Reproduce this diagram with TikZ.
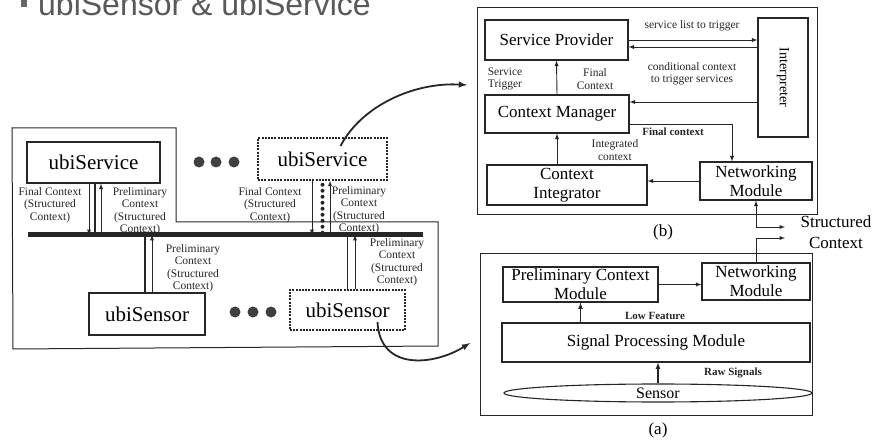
\documentclass[tikz,border=0pt]{standalone}
\usepackage{fontspec}
\setmainfont{Liberation Serif}
\newfontfamily\titlefont{Liberation Sans}
\usetikzlibrary{shapes.geometric}
\usetikzlibrary{calc}

\begin{document}
\begin{tikzpicture}[x=1pt,y=-1pt,>=latex,
	box/.style={draw=black!85,line width=1.1pt,fill=white,inner sep=0pt,align=center,font=\fontsize{17}{19}\selectfont},
	dbox/.style={box,line width=1.5pt,dash pattern=on 2pt off 1.2pt},
	big/.style={font=\fontsize{21}{24}\selectfont},
	note/.style={align=center,inner sep=0pt,text=black!85,font=\fontsize{11.5}{12.5}\selectfont},
	bnote/.style={note,font=\bfseries\fontsize{11}{12.5}\selectfont},
	link/.style={draw=black!85,line width=0.9pt,->},
	wire/.style={draw=black!85,line width=1.6pt},
	curve/.style={draw=black!85,line width=1.8pt,->}]
	
	\useasboundingbox (0,0) rectangle (879,441);
	
	% Title
	\fill[black!60] (21,-2) rectangle (27,7);
	\node[anchor=base west,inner sep=0pt,text=black!65,font=\titlefont\fontsize{32}{34}\selectfont] (title) at (38,16) {ubiSensor \& ubiService};
	
	% Left part: frame and bus
	\draw[black!85,line width=1pt] (12,128) -- (176,128) -- (176,222) -- (438,222) -- (438,346) -- (13,349) -- cycle;
	\coordinate (busL) at (28,235);
	\coordinate (busR) at (423,235);
	\draw[black!85,line width=5pt] (busL) -- (busR);
	
	% ubiService / ubiSensor boxes
	\node[box,big,minimum width=133,minimum height=41] (svcA) at (93.5,162.5) {ubiService};
	\node[dbox,big,minimum width=129,minimum height=42] (svcB) at (322.5,159) {ubiService};
	\node[box,big,minimum width=116,minimum height=42] (senA) at (147,314) {ubiSensor};
	\node[dbox,big,minimum width=115,minimum height=40] (senB) at (347.5,310) {ubiSensor};
	
	\foreach \x in {199,216,234} \fill[black!75] (\x,162) circle[radius=5.5];
	\foreach \x in {235,253,271} \fill[black!75] (\x,312) circle[radius=5.5];
	
	% first ubiService to bus
	\draw[wire] ([xshift=1.5pt]svcA.south) -- ([xshift=1.5pt]svcA.south |- busL);
	\draw[link] ([xshift=-4.5pt]svcA.south) -- ([xshift=-4.5pt]svcA.south |- busL);
	\draw[link] ([xshift=7.5pt]svcA.south |- busL) -- ([xshift=7.5pt]svcA.south);
	\node[note] (fcA) at (50,205) {Final Context\\(Structured\\Context)};
	\node[note] (pcA) at (140,211) {Preliminary\\Context\\(Structured\\Context)};
	
	% second ubiService to bus
	\draw[black!85,line width=4pt,line cap=round,dash pattern=on 0pt off 6pt] ([yshift=-4pt]svcB.south) -- (svcB.south |- busL);
	\draw[link] ([xshift=-10.5pt]svcB.south) -- ([xshift=-10.5pt]svcB.south |- busL);
	\draw[link] ([xshift=7.5pt]svcB.south |- busL) -- ([xshift=7.5pt]svcB.south);
	\node[note] (fcB) at (270,205) {Final Context\\(Structured\\Context)};
	\node[note] (pcB) at (359,210) {Preliminary\\Context\\(Structured\\Context)};
	
	% ubiSensors to bus
	\draw[wire] ([xshift=-2pt]senA.north) -- ([xshift=-2pt]senA.north |- busL);
	\draw[link] ([xshift=5pt]senA.north) -- ([xshift=5pt]senA.north |- busL);
	\node[note] (pcC) at (193,268) {Preliminary\\Context\\(Structured\\Context)};
	\draw[wire] (senB.north) -- (senB.north |- busL);
	\draw[link] ([xshift=7.5pt]senB.north) -- ([xshift=7.5pt]senB.north |- busL);
	\node[note] (pcD) at (397,262) {Preliminary\\Context\\(Structured\\Context)};
	
	% (b) ubiService inside
	\draw[black!85,line width=1pt] (477,8) rectangle (817,215);
	\node[box,minimum width=143,minimum height=40] (sp) at (556.5,40) {Service Provider};
	\node[box,minimum width=50,minimum height=119] (interp) at (783,77.5) {};
	\node[rotate=-90,font=\fontsize{14}{16}\selectfont] (interpTxt) at (interp) {Interpreter};
	\node[box,minimum width=144,minimum height=38] (cm) at (557,114) {Context Manager};
	\node[box,minimum width=160,minimum height=40] (ci) at (567,185) {Context\\Integrator};
	\node[box,minimum width=112,minimum height=38] (nmb) at (756,181) {Networking\\Module};
	
	\draw[link] (sp.east) -- (sp.east -| interp.west);
	\draw[link] ([yshift=-7pt]sp.east -| interp.west) -- ([yshift=-7pt]sp.east);
	\draw[link] ([yshift=12pt]cm.east -| interp.west) -- ([yshift=12pt]cm.east);
	\draw[link] (cm.north) -- (sp.south);
	\draw[link] ([yshift=-10pt]cm.east) -| ([xshift=-24pt]nmb.north);
	\draw[link] (nmb.west) -- (nmb.west -| ci.east);
	\draw[link] (ci.north -| cm.south) -- (cm.south);
	
	\node[note] (slt) at (692,26) {service list to trigger};
	\node[note] (cct) at (692,74) {conditional context\\to trigger services};
	\node[note] (st) at (505,79) {Service\\Trigger};
	\node[note] (fc) at (595,79) {Final\\Context};
	\node[bnote] (fcx) at (673,132) {Final context};
	\node[note] (ic) at (615,150) {Integrated\\context};
	\node[font=\fontsize{17}{19}\selectfont] (capb) at (663,232) {(b)};
	
	% (a) ubiSensor inside
	\draw[black!85,line width=1pt] (480,253) rectangle (812,415);
	\node[box,minimum width=155,minimum height=35] (pcm) at (580.5,284.5) {Preliminary Context\\Module};
	\node[box,minimum width=108,minimum height=37] (nma) at (756,281.5) {Networking\\Module};
	\node[box,minimum width=308,minimum height=39] (spm) at (656,342.5) {Signal Processing Module};
	\node[ellipse,draw=black!85,line width=1.1pt,inner sep=0pt,minimum width=308,minimum height=18,font=\fontsize{16}{18}\selectfont] (sensor) at (658,393) {Sensor};
	
	\draw[link] (pcm.east) -- (pcm.east -| nma.west);
	\draw[link,line width=1.2pt] (spm.north -| pcm.south) -- (pcm.south);
	\draw[link,line width=1.2pt] (sensor.north) -- (sensor.north |- spm.south);
	\node[bnote] (lf) at (655,316) {Low Feature};
	\node[bnote] (rs) at (733,373) {Raw Signals};
	\node[font=\fontsize{17}{19}\selectfont] (capa) at (658,430) {(a)};
	
	% Structured context between (a) and (b)
	\coordinate (scB) at (785,227);
	\coordinate (scA) at (785,238);
	\draw[link,<->] (nmb.south) |- (scB);
	\draw[link] (nma.north) |- (scA);
	\node[font=\fontsize{17}{21}\selectfont,align=center] (sc) at (836,232) {Structured\\Context};
	
	% zoom arrows
	\coordinate (zoomB) at ([xshift=18pt,yshift=13pt]svcB.center);
	\coordinate (zoomA) at ([xshift=30pt,yshift=-12pt]senB.center);
	\draw[curve] (zoomB) .. controls (362,105) and (415,82) .. (467,85);
	\draw[curve] (zoomA) .. controls (380,372) and (435,365) .. (470,343);
	
\end{tikzpicture}
\end{document}
